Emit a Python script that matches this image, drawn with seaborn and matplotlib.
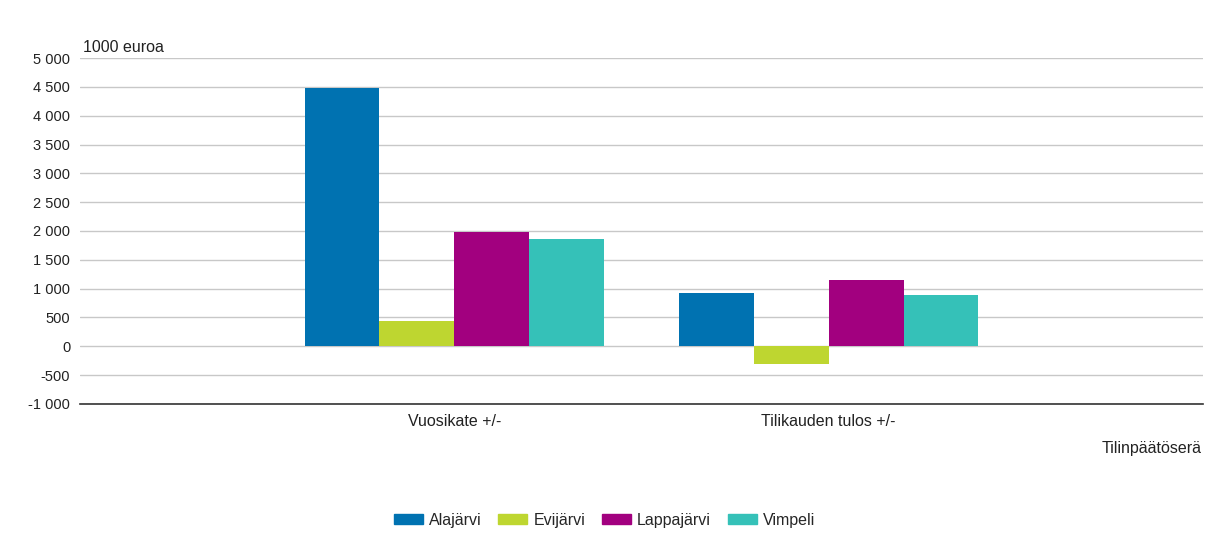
import matplotlib
matplotlib.use("Agg")
import matplotlib.pyplot as plt
import matplotlib.ticker as mticker
import pandas as pd
import seaborn as sns

# data (1000 euroa)
categories = ["Vuosikate +/-", "Tilikauden tulos +/-"]
municipalities = ["Alajärvi", "Evijärvi", "Lappajärvi", "Vimpeli"]
alajarvi = [4480, 919]
evijarvi = [440, -312]
lappajarvi = [1976, 1145]
vimpeli = [1866, 896]
colors = ["#0072B1", "#BED630", "#A2007F", "#35C1B8"]

rows = []
for name, vals in zip(municipalities, [alajarvi, evijarvi, lappajarvi, vimpeli]):
    for cat, v in zip(categories, vals):
        rows.append({"Erä": cat, "Kunta": name, "Arvo": v})
df = pd.DataFrame(rows)

sns.set_theme(style="white")
plt.rcParams["font.family"] = ["Liberation Sans", "DejaVu Sans"]

fig = plt.figure(figsize=(12.09, 5.6), dpi=100)
ax = fig.add_axes([0.0662, 0.2786, 0.9288, 0.6178])

sns.barplot(data=df, x="Erä", y="Arvo", hue="Kunta", hue_order=municipalities,
            order=categories, palette=colors, width=0.8, saturation=1,
            edgecolor="none", linewidth=0, ax=ax, legend=False)

ax.set_xlim(-1, 2)
ax.set_ylim(-1000, 5000)
ax.yaxis.set_major_locator(mticker.MultipleLocator(500))
ax.yaxis.set_major_formatter(mticker.FuncFormatter(lambda v, p: f"{int(v):,}".replace(",", " ")))
ax.grid(axis="y", color="#c8c8c8", linewidth=1)
ax.set_axisbelow(True)
for s in ["left", "right", "top"]:
    ax.spines[s].set_visible(False)
ax.spines["bottom"].set_color("#333333")
ax.spines["bottom"].set_linewidth(1.2)
ax.tick_params(axis="y", length=5, color="#c8c8c8", labelsize=10.5, labelcolor="#222222", pad=2)
ax.tick_params(axis="x", length=0, labelsize=11.5, labelcolor="#222222", pad=7)
ax.set_xlabel("")
ax.set_ylabel("")

fig.text(0.0687, 1 - 52 / 560, "1000 euroa", fontsize=11.5, color="#222222", ha="left", va="baseline")
fig.text(0.994, 1 - 448 / 560, "Tilinpäätöserä", fontsize=11.5, color="#222222", ha="right", va="center")

handles = [plt.Rectangle((0, 0), 1, 1, color=c) for c in colors]
fig.legend(handles, municipalities, loc="center", bbox_to_anchor=(0.5, 1 - 520 / 560), ncol=4,
           frameon=False, fontsize=11.5, handlelength=1.8, handleheight=0.62,
           columnspacing=1.05, handletextpad=0.4)

fig.savefig("out.png", dpi=100)
